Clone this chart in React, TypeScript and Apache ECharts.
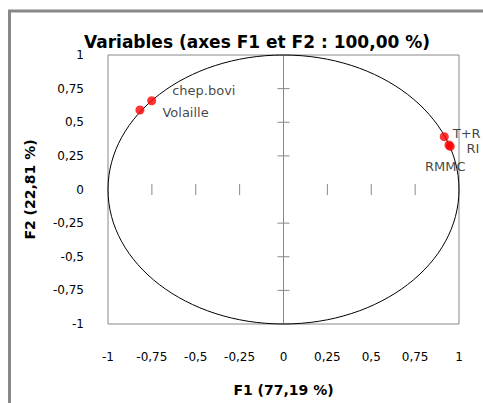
import React, { useEffect, useRef } from "react";
import * as echarts from "echarts";

const titleText = "Variables (axes F1 et F2 : 100,00 %)";
const xName = "F1 (77,19 %)";
const yName = "F2 (22,81 %)";
const varNames = ["chep.bovi", "Volaille", "T+R", "RI", "RMMC"];
const f1Values = [-0.751, -0.818, 0.916, 0.943, 0.95];
const f2Values = [0.66, 0.591, 0.393, 0.331, 0.32];
const labelOffsets: [number, number][] = [[11, -10], [13, 2], [-1, -3], [8, 4], [-5, 4]];
const labelPositions = ["right", "right", "right", "right", "bottom"];
const innerTicks = [-0.75, -0.5, -0.25, 0.25, 0.5, 0.75];

const fmt = (v: number) => String(v).replace(".", ",");
const FONT = "DejaVu Sans";

export default function App() {
  const ref = useRef<HTMLDivElement>(null);
  useEffect(() => {
    if (!ref.current) return;
    const chart = echarts.init(ref.current, null, { renderer: "svg" });
    const pts = varNames.map((n, i) => ({
      name: n,
      value: [f1Values[i], f2Values[i]],
      label: {
        show: true,
        formatter: n,
        position: labelPositions[i],
        offset: labelOffsets[i],
        color: "#111",
        fontFamily: FONT,
        fontSize: 13,
        lineHeight: 14,
      },
    }));
    chart.setOption({
      animation: false,
      backgroundColor: "#fff",
      title: {
        text: titleText,
        left: 257,
        textAlign: "center",
        top: 36,
        padding: 0,
        textStyle: { fontFamily: FONT, fontWeight: "bold", fontSize: 17, lineHeight: 12, color: "#000" },
      },
      graphic: [
        { type: "line", shape: { x1: 9.5, y1: 10, x2: 9.5, y2: 403 }, style: { stroke: "#888", lineWidth: 3 } },
        { type: "line", shape: { x1: 8, y1: 11, x2: 483, y2: 11 }, style: { stroke: "#888", lineWidth: 3 } },
      ],
      grid: { left: 108, right: 24, top: 55, bottom: 79, show: true, borderColor: "#888", borderWidth: 1 },
      xAxis: {
        type: "value",
        min: -1,
        max: 1,
        interval: 0.25,
        axisLine: { show: false },
        axisTick: { show: false },
        splitLine: { show: false },
        axisLabel: { formatter: fmt, margin: 27, color: "#000", fontFamily: FONT, fontSize: 12 },
        name: xName,
        nameLocation: "middle",
        nameGap: 59,
        nameTextStyle: { fontFamily: FONT, fontWeight: "bold", fontSize: 14, color: "#000" },
      },
      yAxis: {
        type: "value",
        min: -1,
        max: 1,
        interval: 0.25,
        axisLine: { show: false },
        axisTick: { show: false },
        splitLine: { show: false },
        axisLabel: { formatter: fmt, margin: 24, color: "#000", fontFamily: FONT, fontSize: 12, lineHeight: 12 },
        name: yName,
        nameLocation: "middle",
        nameGap: 71,
        nameRotate: 90,
        nameTextStyle: { fontFamily: FONT, fontWeight: "bold", fontSize: 14, color: "#000" },
      },
      series: [
        {
          type: "custom",
          silent: true,
          clip: false,
          z: 1,
          data: [[0, 0]],
          renderItem: (_params: any, api: any) => {
            const c = api.coord([0, 0]);
            const r = api.coord([1, 0]);
            const t = api.coord([0, 1]);
            const b = api.coord([0, -1]);
            const children: any[] = [
              {
                type: "line",
                shape: { x1: c[0], y1: t[1], x2: c[0], y2: b[1] },
                style: { stroke: "#888", lineWidth: 1 },
              },
              {
                type: "ellipse",
                shape: { cx: c[0], cy: c[1], rx: r[0] - c[0], ry: c[1] - t[1] },
                style: { fill: "none", stroke: "#000", lineWidth: 1 },
              },
            ];
            innerTicks.forEach((v) => {
              const px = api.coord([v, 0]);
              children.push({
                type: "line",
                shape: { x1: px[0], y1: px[1] - 5.5, x2: px[0], y2: px[1] + 5.5 },
                style: { stroke: "#888", lineWidth: 1 },
              });
              const py = api.coord([0, v]);
              children.push({
                type: "line",
                shape: { x1: py[0] - 6, y1: py[1], x2: py[0] + 6, y2: py[1] },
                style: { stroke: "#888", lineWidth: 1 },
              });
            });
            return { type: "group", children };
          },
        },
        {
          type: "scatter",
          z: 3,
          symbolSize: 9,
          itemStyle: { color: "#ff0000" },
          data: pts,
        },
      ],
    });
    return () => chart.dispose();
  }, []);
  return <div ref={ref} style={{ position: "absolute", left: 0, top: 0, width: 483, height: 403 }} />;
}
